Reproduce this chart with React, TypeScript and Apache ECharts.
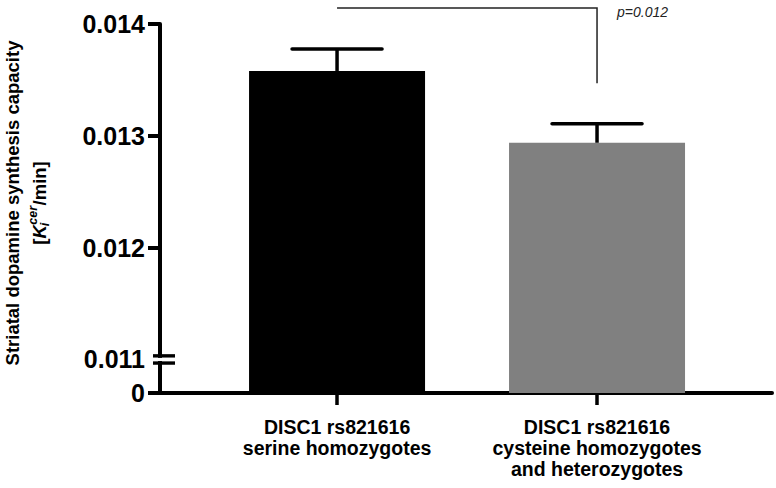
import React, { useEffect, useRef } from 'react';
import * as echarts from 'echarts';

// ---- data ----
const categories = [
  'DISC1 rs821616\nserine homozygotes',
  'DISC1 rs821616\ncysteine homozygotes\nand heterozygotes',
];
const categoryPositions = [1, 2];
const meanValues = [0.01358, 0.012938];
const errorTops = [0.013777, 0.013107];
const barColors = ['#000000', '#808080'];
const yTickValues = [0.011, 0.012, 0.013, 0.014];
const yTickLabels = ['0.011', '0.012', '0.013', '0.014'];
const zeroLabel = '0';
const breakValue = 0.011;
const pValueText = 'p=0.012';
const bracketFrom = 1;
const bracketTo = 2;
const bracketDropValue = 0.01347;
const yTitleLine1 = 'Striatal dopamine synthesis capacity';

// ---- layout constants ----
const FONT = '"Liberation Sans", Arial, Helvetica, sans-serif';
const Y_MIN = 0.0107; // drawn as "0" below the axis break
const Y_MAX = 0.014;
const X_MIN = 0.319;
const X_MAX = 2.673;

function measure(text: string, font: string): number {
  const c = document.createElement('canvas').getContext('2d');
  if (!c) return text.length * 9;
  c.font = font;
  return c.measureText(text).width;
}

export default function App() {
  const ref = useRef<HTMLDivElement>(null);
  useEffect(() => {
    if (!ref.current) return;
    const chart = echarts.init(ref.current, null, { renderer: 'svg' });
    const yLabelValues = [Y_MIN, ...yTickValues];
    const option: any = {
      animation: false,
      backgroundColor: '#ffffff',
      grid: { left: 160, right: 4, top: 24, bottom: 95, containLabel: false },
      xAxis: {
        type: 'value',
        min: X_MIN,
        max: X_MAX,
        splitLine: { show: false },
        axisLine: { show: true, onZero: false, lineStyle: { color: '#000', width: 4 } },
        axisTick: {
          show: true,
          customValues: categoryPositions,
          length: 12,
          lineStyle: { color: '#000', width: 3.5 },
        },
        axisLabel: {
          customValues: categoryPositions,
          formatter: (v: number) => categories[Math.round(v) - 1] ?? '',
          fontFamily: FONT,
          fontWeight: 'bold',
          fontSize: 19.5,
          lineHeight: 21,
          color: '#000',
          margin: 23,
        },
      },
      yAxis: {
        type: 'value',
        min: Y_MIN,
        max: Y_MAX,
        splitLine: { show: false },
        axisLine: { show: true, onZero: false, lineStyle: { color: '#000', width: 4 } },
        axisTick: {
          show: true,
          customValues: [Y_MIN, 0.012, 0.013, 0.014],
          length: 12,
          lineStyle: { color: '#000', width: 4 },
        },
        axisLabel: {
          customValues: yLabelValues,
          showMinLabel: true,
          showMaxLabel: true,
          formatter: (v: number) => {
            if (v < breakValue - 0.0001) return zeroLabel;
            let best = 0;
            yTickValues.forEach((t, i) => {
              if (Math.abs(t - v) < Math.abs(yTickValues[best] - v)) best = i;
            });
            return yTickLabels[best];
          },
          fontFamily: FONT,
          fontWeight: 'bold',
          fontSize: 25,
          color: '#000',
          margin: 15,
        },
      },
      series: [
        {
          type: 'bar',
          clip: true,
          barWidth: 176,
          data: meanValues.map((v, i) => ({
            value: [categoryPositions[i], v],
            itemStyle: { color: barColors[i] },
          })),
        },
        {
          type: 'custom',
          z: 5,
          data: meanValues.map((v, i) => [categoryPositions[i], v, errorTops[i]]),
          renderItem: (params: any, api: any) => {
            const x = api.value(0);
            const p0 = api.coord([x, api.value(1)]);
            const p1 = api.coord([x, api.value(2)]);
            const half = 45;
            return {
              type: 'group',
              children: [
                {
                  type: 'line',
                  shape: { x1: p0[0], y1: p0[1], x2: p1[0], y2: p1[1] },
                  style: { stroke: '#000', lineWidth: 3.5 },
                },
                {
                  type: 'line',
                  shape: { x1: p1[0] - half, y1: p1[1], x2: p1[0] + half, y2: p1[1] },
                  style: { stroke: '#000', lineWidth: 3.5, lineCap: 'round' },
                },
              ],
            };
          },
        },
      ],
    };
    chart.setOption(option);

    // ---- decorations computed from the axes ----
    const axisX = chart.convertToPixel({ xAxisIndex: 0 }, X_MIN) as number;
    const yBreak = chart.convertToPixel({ yAxisIndex: 0 }, breakValue) as number;
    const bx1 = chart.convertToPixel({ xAxisIndex: 0 }, bracketFrom) as number;
    const bx2 = chart.convertToPixel({ xAxisIndex: 0 }, bracketTo) as number;
    const bDrop = chart.convertToPixel({ yAxisIndex: 0 }, bracketDropValue) as number;
    const bracketTop = 8;

    // y title line 2 pieces
    const fs = 18.5;
    const small = 12.5;
    const fBold = `bold ${fs}px ${FONT}`;
    const fBI = `italic bold ${fs}px ${FONT}`;
    const fSmall = `italic bold ${small}px ${FONT}`;
    const wOpen = measure('[', fBold);
    const wK = measure('K', fBI);
    const wSup = measure('cer', fSmall);
    const wRest = measure('/min]', fBold);
    const total = wOpen + wK + wSup + 1 + wRest;
    const x0 = -total / 2;
    const line2Y = 27;
    const txt = (text: string, x: number, y: number, size: number, weight: string, style: string) => ({
      type: 'text',
      x,
      y,
      style: {
        text,
        fill: '#000',
        fontSize: size,
        fontWeight: weight,
        fontStyle: style,
        fontFamily: FONT,
        textAlign: 'left',
        textVerticalAlign: 'middle',
        align: 'left',
        verticalAlign: 'middle',
      },
    });

    chart.setOption({
      graphic: [
        {
          type: 'rect',
          z: 100,
          shape: { x: axisX - 4, y: yBreak - 1.6, width: 8, height: 3.2 },
          style: { fill: '#ffffff' },
        },
        {
          type: 'line',
          z: 101,
          shape: { x1: axisX - 7, y1: yBreak - 3.6, x2: axisX + 15, y2: yBreak - 3.6 },
          style: { stroke: '#000', lineWidth: 3.4 },
        },
        {
          type: 'line',
          z: 101,
          shape: { x1: axisX - 7, y1: yBreak + 3.6, x2: axisX + 15, y2: yBreak + 3.6 },
          style: { stroke: '#000', lineWidth: 3.4 },
        },
        {
          type: 'polyline',
          z: 100,
          shape: { points: [[bx1, bracketTop], [bx2, bracketTop], [bx2, bDrop]] },
          style: { stroke: '#222', lineWidth: 1.5, fill: null },
        },
        {
          type: 'text',
          z: 100,
          x: bx2 + 20,
          y: 12,
          style: {
            text: pValueText,
            fill: '#222',
            fontSize: 14,
            fontStyle: 'italic',
            fontFamily: FONT,
            textAlign: 'left',
            textVerticalAlign: 'middle',
            align: 'left',
            verticalAlign: 'middle',
          },
        },
        {
          type: 'group',
          x: 12,
          y: 203,
          rotation: Math.PI / 2,
          children: [
            {
              type: 'text',
              x: 0,
              y: 0,
              style: {
                text: yTitleLine1,
                fill: '#000',
                fontSize: fs,
                fontWeight: 'bold',
                fontFamily: FONT,
                textAlign: 'center',
                textVerticalAlign: 'middle',
                align: 'center',
                verticalAlign: 'middle',
              },
            },
            txt('[', x0, line2Y, fs, 'bold', 'normal'),
            txt('K', x0 + wOpen, line2Y, fs, 'bold', 'italic'),
            txt('cer', x0 + wOpen + wK + 0.5, line2Y - 6, small, 'bold', 'italic'),
            txt('i', x0 + wOpen + wK - 1, line2Y + 6, small, 'bold', 'italic'),
            txt('/min]', x0 + wOpen + wK + wSup + 1, line2Y, fs, 'bold', 'normal'),
          ],
        },
      ],
    });

    return () => chart.dispose();
  }, []);
  return (
    <div
      ref={ref}
      style={{ position: 'fixed', left: 0, top: 0, width: 776, height: 488, background: '#fff' }}
    />
  );
}
